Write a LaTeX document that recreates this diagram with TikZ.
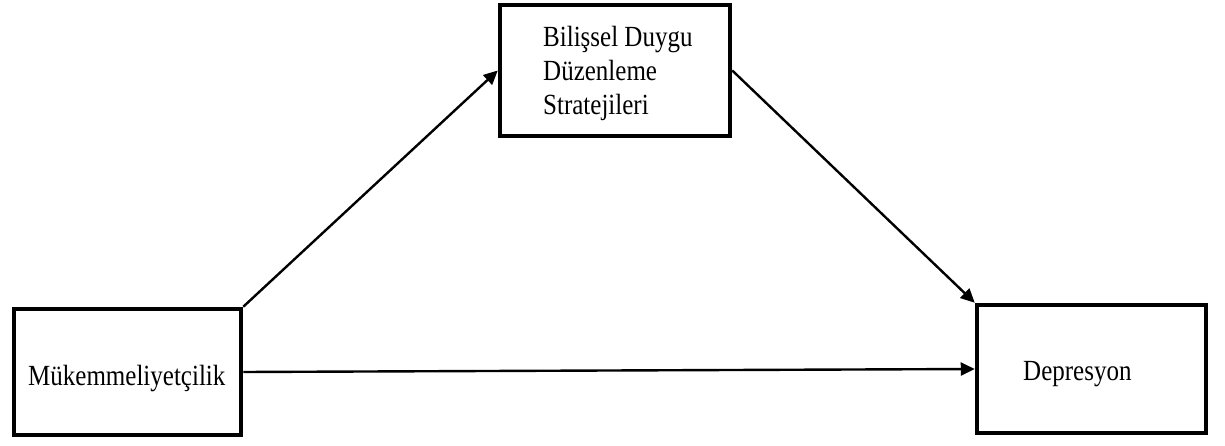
\documentclass[tikz,border=0pt]{standalone}
\usepackage{fontspec}
\setmainfont{Liberation Serif}
\usetikzlibrary{arrows.meta}
\begin{document}
\begin{tikzpicture}[x=1pt,y=-1pt,
  box/.style={draw=black,line width=4.5pt,minimum width=#1,inner sep=0pt},
  lbl/.style={anchor=base west,inner sep=0pt,yscale=1.17,font=\fontsize{25}{34}\selectfont},
  conn/.style={line width=2.4pt,-{Triangle[length=14pt,width=13pt]}}]
\useasboundingbox (0,0) rectangle (1225,446);
\node[box=227pt,minimum height=126pt] (L) at (127.5,372) {};
\node[box=230pt,minimum height=131pt] (M) at (615,70.5) {};
\node[box=229pt,minimum height=128pt] (R) at (1091.5,369) {};
\node[lbl] (tL) at (28,385) {Mükemmeliyetçilik};
\node[lbl] (tM1) at (543,47) {Bilişsel Duygu};
\node[lbl] (tM2) at (543,81) {Düzenleme};
\node[lbl] (tM3) at (543,115) {Stratejileri};
\node[lbl] (tR) at (1023,380) {Depresyon};
\draw[conn] (L.north east) -- (M.west);
\draw[conn] (M.east) -- (R.north west);
\draw[conn] (L.east) -- (R.west);
\end{tikzpicture}
\end{document}
